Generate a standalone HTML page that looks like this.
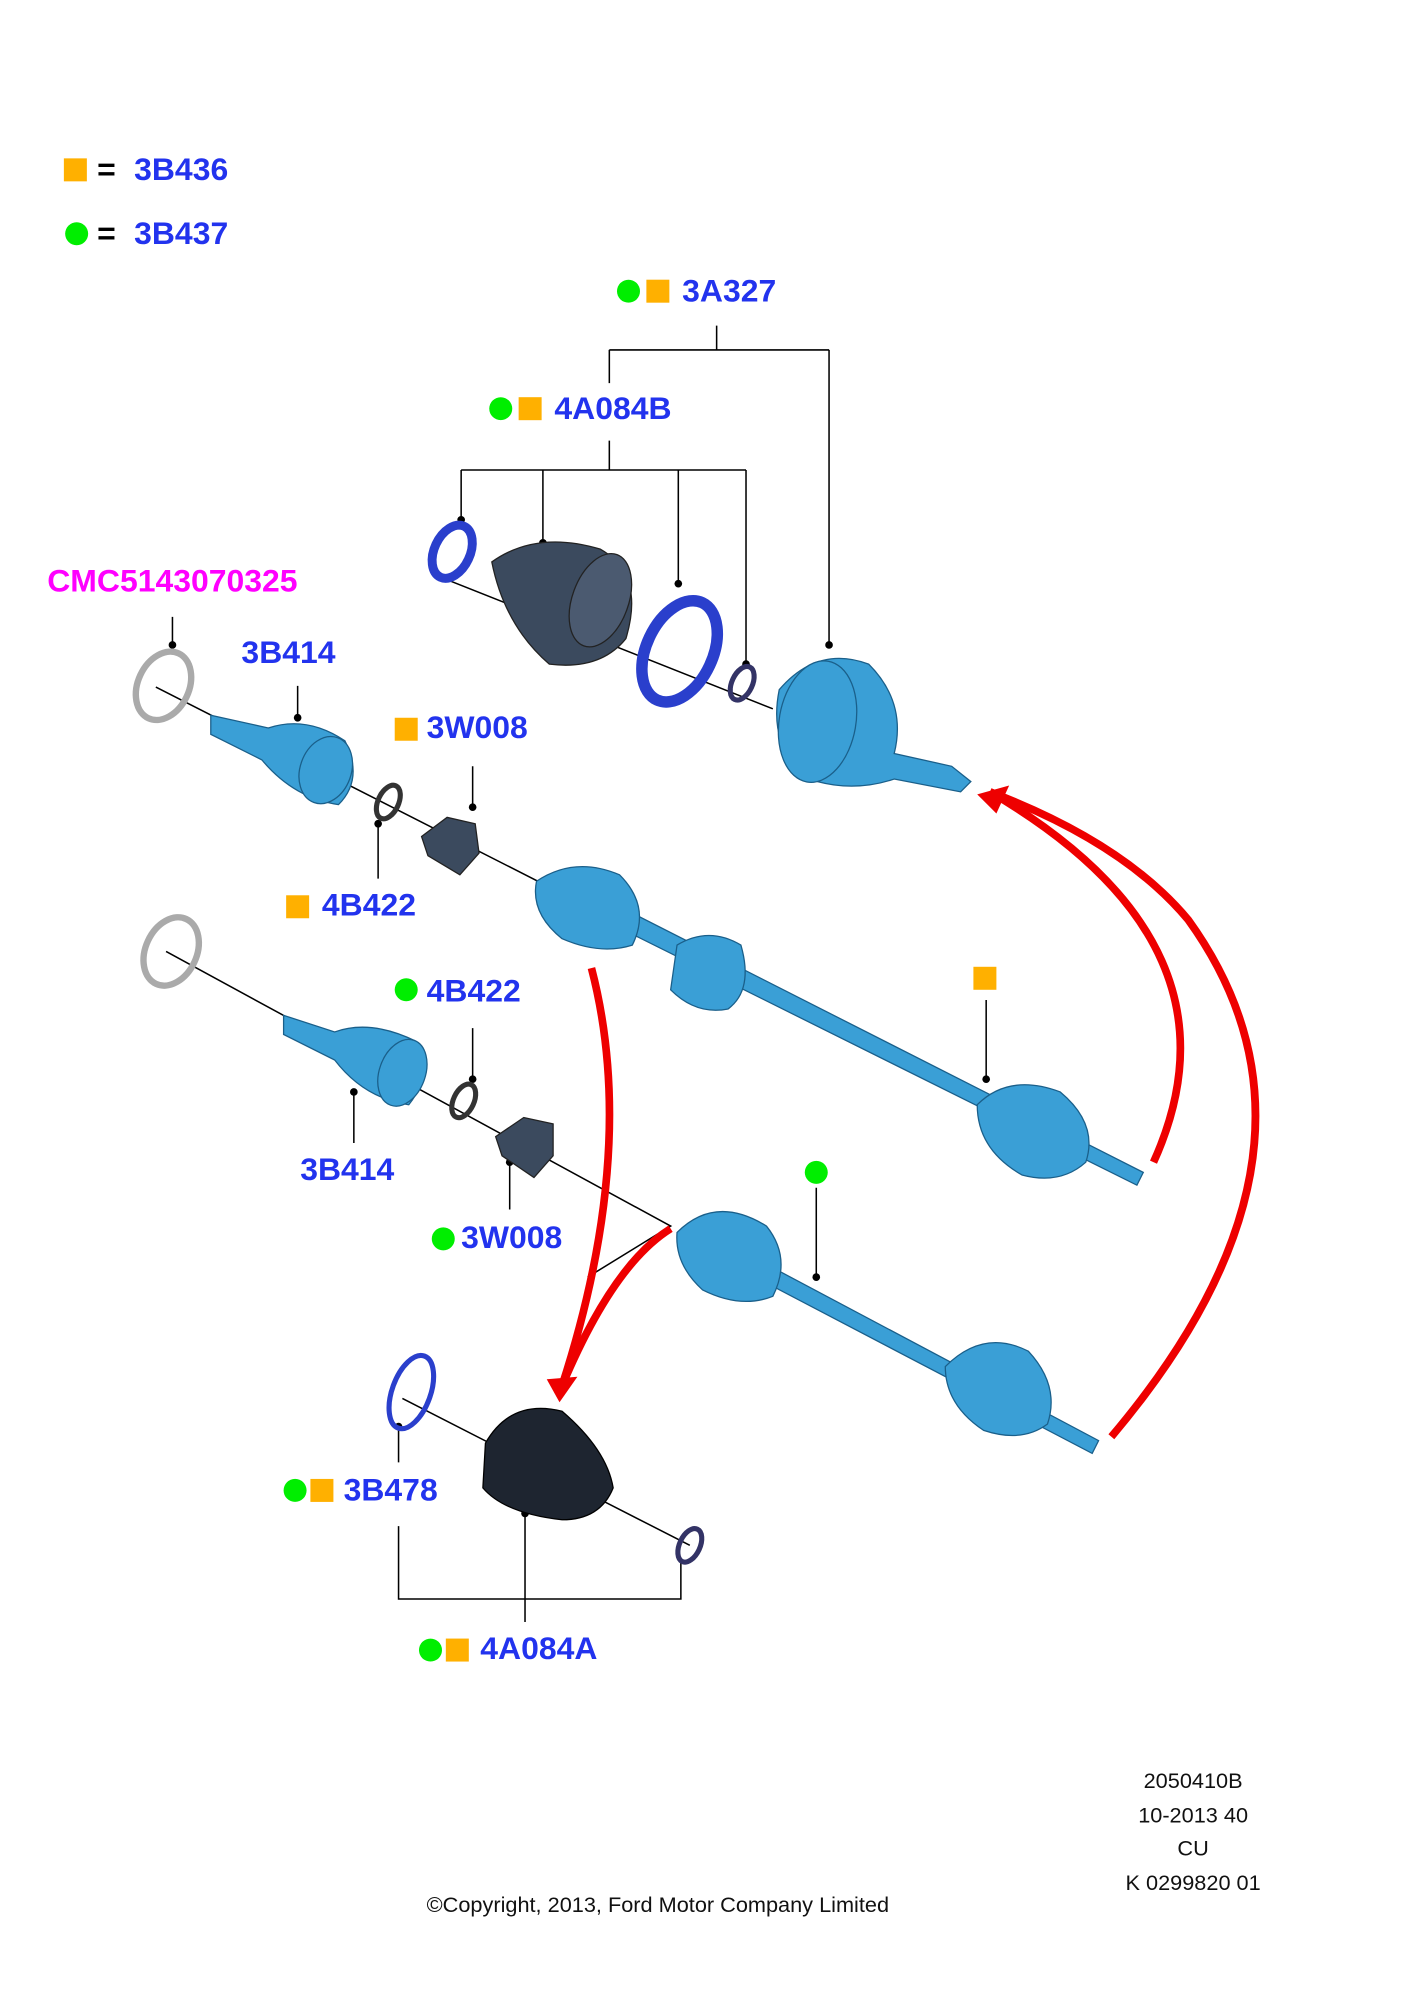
<!DOCTYPE html>
<html><head><meta charset="utf-8"><style>
html,body{margin:0;padding:0;background:#fff;}
svg{display:block}
.t{font-family:"Liberation Sans",sans-serif;font-weight:bold;font-size:25px;fill:#2233ee}
.n{font-family:"Liberation Sans",sans-serif;font-size:17px;fill:#111}
.l{stroke:#000;stroke-width:1.2;fill:none}
.p{fill:#3a9fd6;stroke:#1a5f8a;stroke-width:1}
</style></head><body>
<svg width="1409" height="2000" viewBox="0 0 1103 1566" preserveAspectRatio="none" xmlns="http://www.w3.org/2000/svg">
<rect width="1103" height="1566" fill="#fff"/>
<rect x="50" y="124" width="18" height="18" fill="#ffb000"/>
<text x="76" y="141" class="t" style="fill:#000">=</text>
<text x="105" y="141" class="t">3B436</text>
<circle cx="60" cy="183" r="9" fill="#00ee00"/>
<text x="76" y="191" class="t" style="fill:#000">=</text>
<text x="105" y="191" class="t">3B437</text>

<circle cx="492" cy="228" r="9" fill="#00ee00"/><rect x="506" y="219" width="18" height="18" fill="#ffb000"/>
<text x="534" y="236" class="t">3A327</text>
<circle cx="392" cy="320" r="9" fill="#00ee00"/><rect x="406" y="311" width="18" height="18" fill="#ffb000"/>
<text x="434" y="328" class="t">4A084B</text>
<text x="37" y="463" class="t" style="fill:#ff00ff">CMC5143070325</text>
<text x="189" y="519" class="t">3B414</text>
<rect x="309" y="562" width="18" height="18" fill="#ffb000"/><text x="334" y="578" class="t">3W008</text>
<rect x="224" y="701" width="18" height="18" fill="#ffb000"/><text x="252" y="717" class="t">4B422</text>
<circle cx="318" cy="775" r="9" fill="#00ee00"/><text x="334" y="784" class="t">4B422</text>
<text x="235" y="924" class="t">3B414</text>
<circle cx="347" cy="970" r="9" fill="#00ee00"/><text x="361" y="977" class="t">3W008</text>
<rect x="762" y="757" width="18" height="18" fill="#ffb000"/>
<circle cx="639" cy="918" r="9" fill="#00ee00"/>
<circle cx="231" cy="1167" r="9" fill="#00ee00"/><rect x="243" y="1158" width="18" height="18" fill="#ffb000"/>
<text x="269" y="1175" class="t">3B478</text>
<circle cx="337" cy="1292" r="9" fill="#00ee00"/><rect x="349" y="1283" width="18" height="18" fill="#ffb000"/>
<text x="376" y="1299" class="t">4A084A</text>

<path class="l" d="M561 255V274M477 274H649M477 274V300M649 274V505M477 345V368M361 368H584M361 368V407M425 368V425M531 368V457M584 368V520M135 483V505M233 537V562M370 600V632M296 645V688M370 805V845M277 855V895M399 910V947M772 783V845M639 930V1000M312 1120V1145M312 1195V1252H533V1220M411 1185V1270"/>
<g fill="#000"><circle cx="649" cy="505" r="3"/><circle cx="361" cy="407" r="3"/><circle cx="425" cy="425" r="3"/><circle cx="531" cy="457" r="3"/><circle cx="584" cy="520" r="3"/><circle cx="135" cy="505" r="3"/><circle cx="233" cy="562" r="3"/><circle cx="370" cy="632" r="3"/><circle cx="296" cy="645" r="3"/><circle cx="370" cy="845" r="3"/><circle cx="277" cy="855" r="3"/><circle cx="399" cy="910" r="3"/><circle cx="772" cy="845" r="3"/><circle cx="639" cy="1000" r="3"/><circle cx="312" cy="1117" r="3"/><circle cx="411" cy="1185" r="3"/></g>

<path class="l" stroke-width="1" d="M122 538L425 692M130 745L525 960L460 1000M315 1095L540 1210M340 450L605 555"/>

<ellipse cx="128" cy="537" rx="20" ry="28" transform="rotate(25 128 537)" fill="none" stroke="#aaa" stroke-width="5"/>
<ellipse cx="354" cy="432" rx="14" ry="22" transform="rotate(25 354 432)" fill="none" stroke="#2a3fcc" stroke-width="7"/>
<path d="M385 440 Q420 415 470 430 Q505 450 490 500 Q470 525 430 520 Q395 490 385 440Z" fill="#3b4a5e" stroke="#222"/>
<ellipse cx="470" cy="470" rx="22" ry="38" transform="rotate(20 470 470)" fill="#4b5a70" stroke="#222"/>
<ellipse cx="532" cy="510" rx="26" ry="42" transform="rotate(25 532 510)" fill="none" stroke="#2a3fcc" stroke-width="9"/>
<ellipse cx="581" cy="535" rx="8" ry="14" transform="rotate(25 581 535)" fill="none" stroke="#336" stroke-width="4"/>
<path d="M610 540 Q640 505 680 520 Q710 550 700 590 L745 600 L760 612 L752 620 L700 610 Q670 620 640 612 Q600 590 610 540Z" class="p"/>
<ellipse cx="640" cy="565" rx="30" ry="48" transform="rotate(10 640 565)" class="p"/>

<path d="M165 560L210 570Q240 560 270 580Q285 610 265 630Q230 625 205 595L165 575Z" class="p"/>
<ellipse cx="255" cy="603" rx="20" ry="27" transform="rotate(20 255 603)" class="p"/>
<ellipse cx="304" cy="628" rx="8" ry="14" transform="rotate(25 304 628)" fill="none" stroke="#333" stroke-width="4"/>
<path d="M330 655L350 640L372 645L375 668L360 685L335 670Z" fill="#3b4a5e" stroke="#222"/>

<path d="M495 715L895 918L890 928L488 728Z" class="p"/>
<path d="M420 690Q450 670 485 685Q510 710 495 740Q470 748 440 735Q415 715 420 690Z" class="p"/>
<path d="M530 740Q555 725 580 740Q590 775 570 790Q545 795 525 775Z" class="p"/>
<path d="M765 865Q790 840 830 855Q860 880 850 910Q830 928 800 920Q765 900 765 865Z" class="p"/>

<ellipse cx="134" cy="745" rx="20" ry="28" transform="rotate(25 134 745)" fill="none" stroke="#aaa" stroke-width="5"/>
<path d="M222 795L262 808Q290 798 325 815Q340 840 320 865Q285 860 262 830L222 810Z" class="p"/>
<ellipse cx="315" cy="840" rx="18" ry="27" transform="rotate(20 315 840)" class="p"/>
<ellipse cx="363" cy="862" rx="8" ry="14" transform="rotate(25 363 862)" fill="none" stroke="#333" stroke-width="4"/>
<path d="M388 890L410 875L433 880L433 905L418 922L393 905Z" fill="#3b4a5e" stroke="#222"/>
<path d="M600 990L860 1128L855 1138L595 1002Z" class="p"/>
<path d="M530 965Q560 935 600 960Q620 985 605 1015Q580 1025 550 1010Q528 990 530 965Z" class="p"/>
<path d="M740 1070Q770 1040 805 1058Q830 1085 820 1115Q800 1130 770 1120Q740 1100 740 1070Z" class="p"/>

<ellipse cx="322" cy="1090" rx="15" ry="30" transform="rotate(20 322 1090)" fill="none" stroke="#2a3fcc" stroke-width="4"/>
<path d="M380 1130Q400 1095 440 1105Q475 1135 480 1165Q470 1190 440 1190Q395 1185 378 1165Z" fill="#1e2530" stroke="#000"/>
<ellipse cx="540" cy="1210" rx="8" ry="14" transform="rotate(25 540 1210)" fill="none" stroke="#336" stroke-width="4"/>

<g fill="none" stroke="#ee0000" stroke-width="6">
<path d="M903 910Q980 740 775 620"/>
<path d="M870 1125Q1060 900 930 720Q880 660 775 620"/>
<path d="M463 758Q500 900 440 1085"/>
<path d="M525 962Q480 990 440 1085"/>
</g>
<polygon points="765,622 790,615 780,637" fill="#ee0000"/>
<polygon points="428,1080 452,1078 438,1098" fill="#ee0000"/>

<g class="n" text-anchor="middle">
<text x="934" y="1400">2050410B</text>
<text x="934" y="1427">10-2013 40</text>
<text x="934" y="1453">CU</text>
<text x="934" y="1480">K 0299820 01</text>
<text x="515" y="1497">©Copyright, 2013, Ford Motor Company Limited</text>
</g>
</svg>
</body></html>
